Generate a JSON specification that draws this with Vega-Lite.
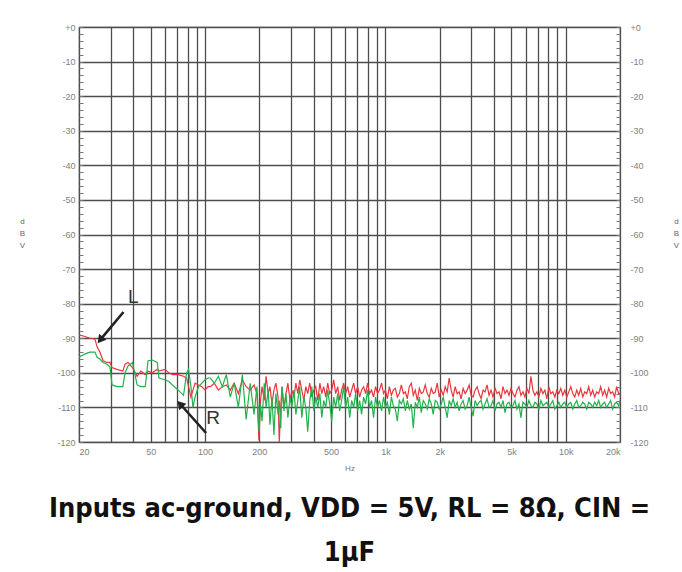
{
  "$schema": "https://vega.github.io/schema/vega-lite/v6.json",
  "autosize": "none",
  "width": 541,
  "height": 415,
  "padding": {"left": 79, "top": 27, "right": 62, "bottom": 130},
  "background": "white",
  "config": {
    "view": {"stroke": "#666", "strokeWidth": 1.2},
    "font": "Liberation Sans"
  },
  "title": {
    "text": ["Inputs ac-ground, VDD = 5V, RL = 8Ω, CIN =", "1µF"],
    "orient": "bottom",
    "anchor": "middle",
    "font": "Liberation Sans Narrow, DejaVu Sans Condensed, Liberation Sans",
    "fontSize": 27,
    "fontWeight": "bold",
    "color": "#111",
    "lineHeight": 44,
    "offset": 24
  },
  "datasets": {
    "trace": [
      {"f":20,"L":-89,"R":-95.5},{"f":21.6,"L":-89.5,"R":-94.5},{"f":23,"L":-90,"R":-94},{"f":24.5,"L":-90.2,"R":-94},
      {"f":25.2,"L":-92.5,"R":-95.5},{"f":26.1,"L":-94,"R":-96},{"f":27.2,"L":-96.5,"R":-97},{"f":28.6,"L":-97,"R":-97.5},
      {"f":29.7,"L":-97,"R":-98.3},{"f":30.5,"L":-98.5,"R":-103.5},{"f":32.5,"L":-99,"R":-104},{"f":35,"L":-99.5,"R":-104},
      {"f":36,"L":-97.5,"R":-100},{"f":37.4,"L":-97,"R":-98},{"f":39.6,"L":-98.5,"R":-97},{"f":42,"L":-101,"R":-103.5},
      {"f":44,"L":-99.5,"R":-104},{"f":46.6,"L":-100.5,"R":-104},{"f":48.3,"L":-99.5,"R":-96.5},{"f":51,"L":-100,"R":-96.3},
      {"f":54.3,"L":-99,"R":-97},{"f":55.5,"L":-99.5,"R":-101.5},{"f":60,"L":-99,"R":-102},{"f":63,"L":-100,"R":-102.5},
      {"f":66,"L":-100.5,"R":-103.5},{"f":71,"L":-100.5,"R":-105},{"f":76,"L":-101,"R":-106.5},{"f":79,"L":-101.5,"R":-100},
      {"f":81,"L":-104,"R":-99},{"f":83.5,"L":-107,"R":-104},{"f":85.7,"L":-105,"R":-110},{"f":88,"L":-103,"R":-107},
      {"f":92,"L":-103.5,"R":-104},{"f":96,"L":-104,"R":-103},{"f":100,"L":-105,"R":-102},{"f":104,"L":-104,"R":-101.5},
      {"f":107,"L":-104,"R":-101.5},{"f":112.6,"L":-103,"R":-103},{"f":118.5,"L":-105,"R":-101},{"f":124.7,"L":-104,"R":-104},
      {"f":131.2,"L":-103.5,"R":-100.5},{"f":138,"L":-105,"R":-107},{"f":145,"L":-103,"R":-103},{"f":153,"L":-106,"R":-110},
      {"f":161,"L":-102,"R":-100.5},{"f":169,"L":-104,"R":-113.5},{"f":178,"L":-105,"R":-103},{"f":187,"L":-103.5,"R":-112},
      {"f":194,"L":-106,"R":-104},{"f":199,"L":-119.5,"R":-117},{"f":203,"L":-108,"R":-109},{"f":207,"L":-104,"R":-114},
      {"f":213,"L":-108,"R":-103},{"f":218,"L":-101,"R":-110},{"f":224,"L":-106,"R":-105},{"f":229,"L":-104,"R":-115},
      {"f":235,"L":-109,"R":-107},{"f":241,"L":-105,"R":-118},{"f":247,"L":-103,"R":-106},{"f":254,"L":-107,"R":-112},
      {"f":258,"L":-120,"R":-108},{"f":263,"L":-110,"R":-116},{"f":267,"L":-104,"R":-104},{"f":274,"L":-110,"R":-111},
      {"f":281,"L":-106,"R":-106},{"f":288,"L":-103,"R":-113},{"f":296,"L":-108,"R":-107},{"f":303,"L":-105,"R":-110},
      {"f":311,"L":-107,"R":-105},{"f":319,"L":-103,"R":-112},{"f":327,"L":-106,"R":-108},{"f":335,"L":-102,"R":-104},
      {"f":344,"L":-105,"R":-113},{"f":353,"L":-108,"R":-107},{"f":362,"L":-104,"R":-110},{"f":371,"L":-106,"R":-117},
      {"f":381,"L":-103,"R":-108},{"f":391,"L":-107,"R":-104},{"f":401,"L":-105,"R":-111},{"f":411,"L":-104,"R":-107},
      {"f":422,"L":-108,"R":-110},{"f":433,"L":-103,"R":-106},{"f":444,"L":-106,"R":-113},{"f":455,"L":-104,"R":-108},
      {"f":467,"L":-107,"R":-110},{"f":479,"L":-103,"R":-105},{"f":491,"L":-106,"R":-109},{"f":504,"L":-105,"R":-114},
      {"f":517,"L":-102,"R":-107},{"f":530,"L":-106,"R":-110},{"f":544,"L":-104,"R":-106},{"f":558,"L":-108,"R":-111},
      {"f":572,"L":-105,"R":-108},{"f":587,"L":-103,"R":-104},{"f":602,"L":-106,"R":-110},{"f":618,"L":-104,"R":-107},
      {"f":634,"L":-107,"R":-113},{"f":650,"L":-105,"R":-108},{"f":667,"L":-103,"R":-110},{"f":684,"L":-106,"R":-106},
      {"f":702,"L":-104,"R":-111},{"f":720,"L":-107,"R":-108},{"f":738,"L":-105,"R":-112},{"f":757,"L":-104,"R":-107},
      {"f":777,"L":-106,"R":-109},{"f":797,"L":-103,"R":-105},{"f":817,"L":-106,"R":-110},{"f":838,"L":-105,"R":-108},
      {"f":860,"L":-107,"R":-113},{"f":882,"L":-104,"R":-107},{"f":905,"L":-106,"R":-110},{"f":928,"L":-105,"R":-108},
      {"f":952,"L":-103,"R":-111},{"f":977,"L":-106,"R":-107},{"f":1000,"L":-105,"R":-110},{"f":1026,"L":-107.5,"R":-108.5},
      {"f":1052,"L":-104,"R":-112},{"f":1080,"L":-106.5,"R":-107},{"f":1107,"L":-105,"R":-109.5},{"f":1136,"L":-104.5,"R":-110.5},
      {"f":1165,"L":-107,"R":-114},{"f":1195,"L":-106,"R":-108},{"f":1226,"L":-103.5,"R":-109},{"f":1258,"L":-106,"R":-107.5},
      {"f":1290,"L":-105.5,"R":-111},{"f":1323,"L":-107.5,"R":-108},{"f":1357,"L":-104,"R":-110.5},{"f":1393,"L":-103,"R":-109},
      {"f":1428,"L":-106.5,"R":-116},{"f":1465,"L":-105,"R":-108.5},{"f":1503,"L":-108,"R":-110},{"f":1542,"L":-104.5,"R":-107},
      {"f":1581,"L":-106,"R":-111.5},{"f":1622,"L":-105.5,"R":-108},{"f":1664,"L":-103.5,"R":-109},{"f":1707,"L":-106,"R":-110.5},
      {"f":1751,"L":-107,"R":-107.5},{"f":1797,"L":-104.5,"R":-109},{"f":1842,"L":-106,"R":-112},{"f":1890,"L":-105.5,"R":-108},
      {"f":1938,"L":-103,"R":-108.5},{"f":1990,"L":-107,"R":-110.5},{"f":2040,"L":-105,"R":-109},{"f":2094,"L":-106.5,"R":-107},
      {"f":2146,"L":-104,"R":-110},{"f":2202,"L":-105.5,"R":-113},{"f":2258,"L":-101.5,"R":-108},{"f":2317,"L":-105,"R":-109.5},
      {"f":2376,"L":-107,"R":-107.5},{"f":2438,"L":-104,"R":-110},{"f":2500,"L":-106,"R":-108.5},{"f":2565,"L":-105.5,"R":-111},
      {"f":2630,"L":-107.5,"R":-109},{"f":2698,"L":-104.5,"R":-108},{"f":2768,"L":-106,"R":-110.5},{"f":2840,"L":-105,"R":-109.5},
      {"f":2913,"L":-103.5,"R":-107},{"f":2988,"L":-106.5,"R":-110},{"f":3065,"L":-107,"R":-112.5},{"f":3145,"L":-105,"R":-108},
      {"f":3225,"L":-104,"R":-109.5},{"f":3309,"L":-106,"R":-108.5},{"f":3393,"L":-107.5,"R":-108},{"f":3481,"L":-105,"R":-110.5},
      {"f":3570,"L":-105.5,"R":-109},{"f":3663,"L":-103.5,"R":-107.5},{"f":3757,"L":-106.5,"R":-110},{"f":3854,"L":-105,"R":-109.5},
      {"f":3953,"L":-107,"R":-108},{"f":4056,"L":-104.5,"R":-111},{"f":4160,"L":-106,"R":-109},{"f":4268,"L":-105.5,"R":-108.5},
      {"f":4377,"L":-107.5,"R":-110},{"f":4490,"L":-104,"R":-108},{"f":4605,"L":-106,"R":-111.5},{"f":4724,"L":-105,"R":-109},
      {"f":4846,"L":-106.5,"R":-108.5},{"f":4971,"L":-104.5,"R":-110},{"f":5099,"L":-106,"R":-109.5},{"f":5231,"L":-107,"R":-108},
      {"f":5365,"L":-105,"R":-110.5},{"f":5504,"L":-104,"R":-109},{"f":5645,"L":-106.5,"R":-113},{"f":5791,"L":-105.5,"R":-108.5},
      {"f":5940,"L":-107,"R":-109},{"f":6093,"L":-104.5,"R":-110},{"f":6250,"L":-106,"R":-108},{"f":6411,"L":-101,"R":-109.5},
      {"f":6577,"L":-105,"R":-110},{"f":6746,"L":-106.5,"R":-108.5},{"f":6920,"L":-105.5,"R":-109},{"f":7098,"L":-107,"R":-110.5},
      {"f":7282,"L":-104.5,"R":-108},{"f":7470,"L":-106,"R":-109.5},{"f":7662,"L":-105,"R":-109},{"f":7860,"L":-107.5,"R":-108.5},
      {"f":8062,"L":-104,"R":-110},{"f":8270,"L":-106,"R":-109},{"f":8483,"L":-105.5,"R":-108},{"f":8702,"L":-107,"R":-110.5},
      {"f":8926,"L":-105,"R":-109.5},{"f":9156,"L":-106,"R":-108.5},{"f":9393,"L":-104.5,"R":-110},{"f":9635,"L":-106.5,"R":-109},
      {"f":9883,"L":-105,"R":-108.5},{"f":10138,"L":-107,"R":-110},{"f":10400,"L":-105.5,"R":-109},{"f":10668,"L":-104,"R":-108.5},
      {"f":10943,"L":-106,"R":-110.5},{"f":11225,"L":-107,"R":-109},{"f":11514,"L":-105,"R":-108},{"f":11811,"L":-106.5,"R":-110},
      {"f":12115,"L":-104.5,"R":-109.5},{"f":12428,"L":-107,"R":-108.5},{"f":12748,"L":-105.5,"R":-109},{"f":13077,"L":-106,"R":-110.5},
      {"f":13414,"L":-104,"R":-108.5},{"f":13760,"L":-106.5,"R":-109},{"f":14114,"L":-105,"R":-110},{"f":14478,"L":-107,"R":-108.5},
      {"f":14851,"L":-105.5,"R":-109.5},{"f":15234,"L":-106,"R":-108},{"f":15627,"L":-104,"R":-110},{"f":16030,"L":-106.5,"R":-109},
      {"f":16443,"L":-105,"R":-108.5},{"f":16867,"L":-107,"R":-110},{"f":17302,"L":-104.5,"R":-109},{"f":17748,"L":-106,"R":-108},
      {"f":18206,"L":-105.5,"R":-110.5},{"f":18676,"L":-107,"R":-109},{"f":19157,"L":-104,"R":-108.5},{"f":19650,"L":-106,"R":-109.5},
      {"f":20000,"L":-106,"R":-108}
    ],
    "labels": [
      {"f": 40, "db": -78.1, "t": "L"},
      {"f": 110.7, "db": -113.1, "t": "R"}
    ],
    "arrows": [
      {"f1": 35.3, "d1": -82.4, "f2": 26.5, "d2": -90.2, "ang": 219},
      {"f1": 101.3, "d1": -117.4, "f2": 73.6, "d2": -109.3, "ang": 318}
    ]
  },
  "layer": [
    {
      "data": {"name": "trace"},
      "transform": [{"fold": ["L", "R"], "as": ["ch", "db"]}],
      "mark": {"type": "line", "strokeWidth": 1.2, "clip": true},
      "encoding": {
        "x": {
          "field": "f", "type": "quantitative",
          "scale": {"type": "log", "domain": [20, 20000], "nice": false},
          "axis": {
            "values": [20,30,40,50,60,70,80,90,100,200,300,400,500,600,700,800,900,1000,2000,3000,4000,5000,6000,7000,8000,9000,10000,20000],
            "labelExpr": "indexof([20,50,100,200,500,1000,2000,5000,10000,20000], datum.value) >= 0 ? (datum.value >= 1000 ? (datum.value/1000) + 'k' : '' + datum.value) : ''",
            "grid": true, "gridColor": "#4d4d4d", "gridWidth": 1.3,
            "ticks": false, "domain": false,
            "labelFontSize": 9, "labelColor": "#808080", "labelPadding": 5,
            "title": "Hz", "titleFontSize": 8, "titleFontWeight": "normal", "titleColor": "#777", "titlePadding": 8
          }
        },
        "y": {
          "field": "db", "type": "quantitative",
          "scale": {"domain": [-120, 0], "nice": false},
          "axis": {
            "orient": "left",
            "values": [-120,-118,-116,-114,-112,-110,-108,-106,-104,-102,-100,-98,-96,-94,-92,-90,-88,-86,-84,-82,-80,-78,-76,-74,-72,-70,-68,-66,-64,-62,-60,-58,-56,-54,-52,-50,-48,-46,-44,-42,-40,-38,-36,-34,-32,-30,-28,-26,-24,-22,-20,-18,-16,-14,-12,-10,-8,-6,-4,-2,0],
            "labelExpr": "datum.value === 0 ? '+0' : (datum.value % 10 === 0 ? '' + datum.value : '')",
            "grid": true, "gridColor": "#4d4d4d", "gridWidth": 1.3,
            "gridOpacity": {"condition": {"test": "datum.value % 10 === 0", "value": 1}, "value": 0},
            "tickSize": -4, "tickColor": "#777", "tickWidth": 1,
            "domain": false,
            "labelFontSize": 9, "labelColor": "#808080", "labelPadding": 8,
            "title": ["d", "B", "V"], "titleAngle": 0, "titleFontSize": 8, "titleFontWeight": "normal",
            "titleColor": "#666", "titleLineHeight": 12, "titleX": -57, "titleY": 194, "titleAlign": "center", "titleBaseline": "middle"
          }
        },
        "color": {
          "field": "ch", "type": "nominal",
          "scale": {"domain": ["L", "R"], "range": ["#e8363c", "#22b14c"]},
          "legend": null
        }
      }
    },
    {
      "data": {"name": "labels"},
      "mark": {"type": "text", "fontSize": 19, "color": "#333", "align": "center", "baseline": "middle"},
      "encoding": {
        "x": {"field": "f", "type": "quantitative"},
        "y": {
          "field": "db", "type": "quantitative",
          "axis": {
            "orient": "right",
            "values": [-120,-118,-116,-114,-112,-110,-108,-106,-104,-102,-100,-98,-96,-94,-92,-90,-88,-86,-84,-82,-80,-78,-76,-74,-72,-70,-68,-66,-64,-62,-60,-58,-56,-54,-52,-50,-48,-46,-44,-42,-40,-38,-36,-34,-32,-30,-28,-26,-24,-22,-20,-18,-16,-14,-12,-10,-8,-6,-4,-2,0],
            "labelExpr": "datum.value === 0 ? '+0' : (datum.value % 10 === 0 ? '' + datum.value : '')",
            "grid": false,
            "tickSize": -4, "tickColor": "#777", "tickWidth": 1,
            "domain": false,
            "labelFontSize": 9, "labelColor": "#808080", "labelPadding": 14,
            "title": ["d", "B", "V"], "titleAngle": 0, "titleFontSize": 8, "titleFontWeight": "normal",
            "titleColor": "#666", "titleLineHeight": 12, "titleX": 56, "titleY": 194, "titleAlign": "center", "titleBaseline": "middle"
          }
        },
        "text": {"field": "t"}
      }
    },
    {
      "data": {"name": "arrows"},
      "mark": {"type": "rule", "strokeWidth": 2.6, "color": "#222"},
      "encoding": {
        "x": {"field": "f1", "type": "quantitative"},
        "x2": {"field": "f2"},
        "y": {"field": "d1", "type": "quantitative", "axis": null},
        "y2": {"field": "d2"}
      }
    },
    {
      "data": {"name": "arrows"},
      "mark": {"type": "point", "shape": "triangle", "filled": true, "size": 90, "color": "#222", "opacity": 1},
      "encoding": {
        "x": {"field": "f2", "type": "quantitative"},
        "y": {"field": "d2", "type": "quantitative", "axis": null},
        "angle": {"field": "ang", "type": "quantitative", "scale": null}
      }
    }
  ],
  "resolve": {"axis": {"y": "independent"}}
}
